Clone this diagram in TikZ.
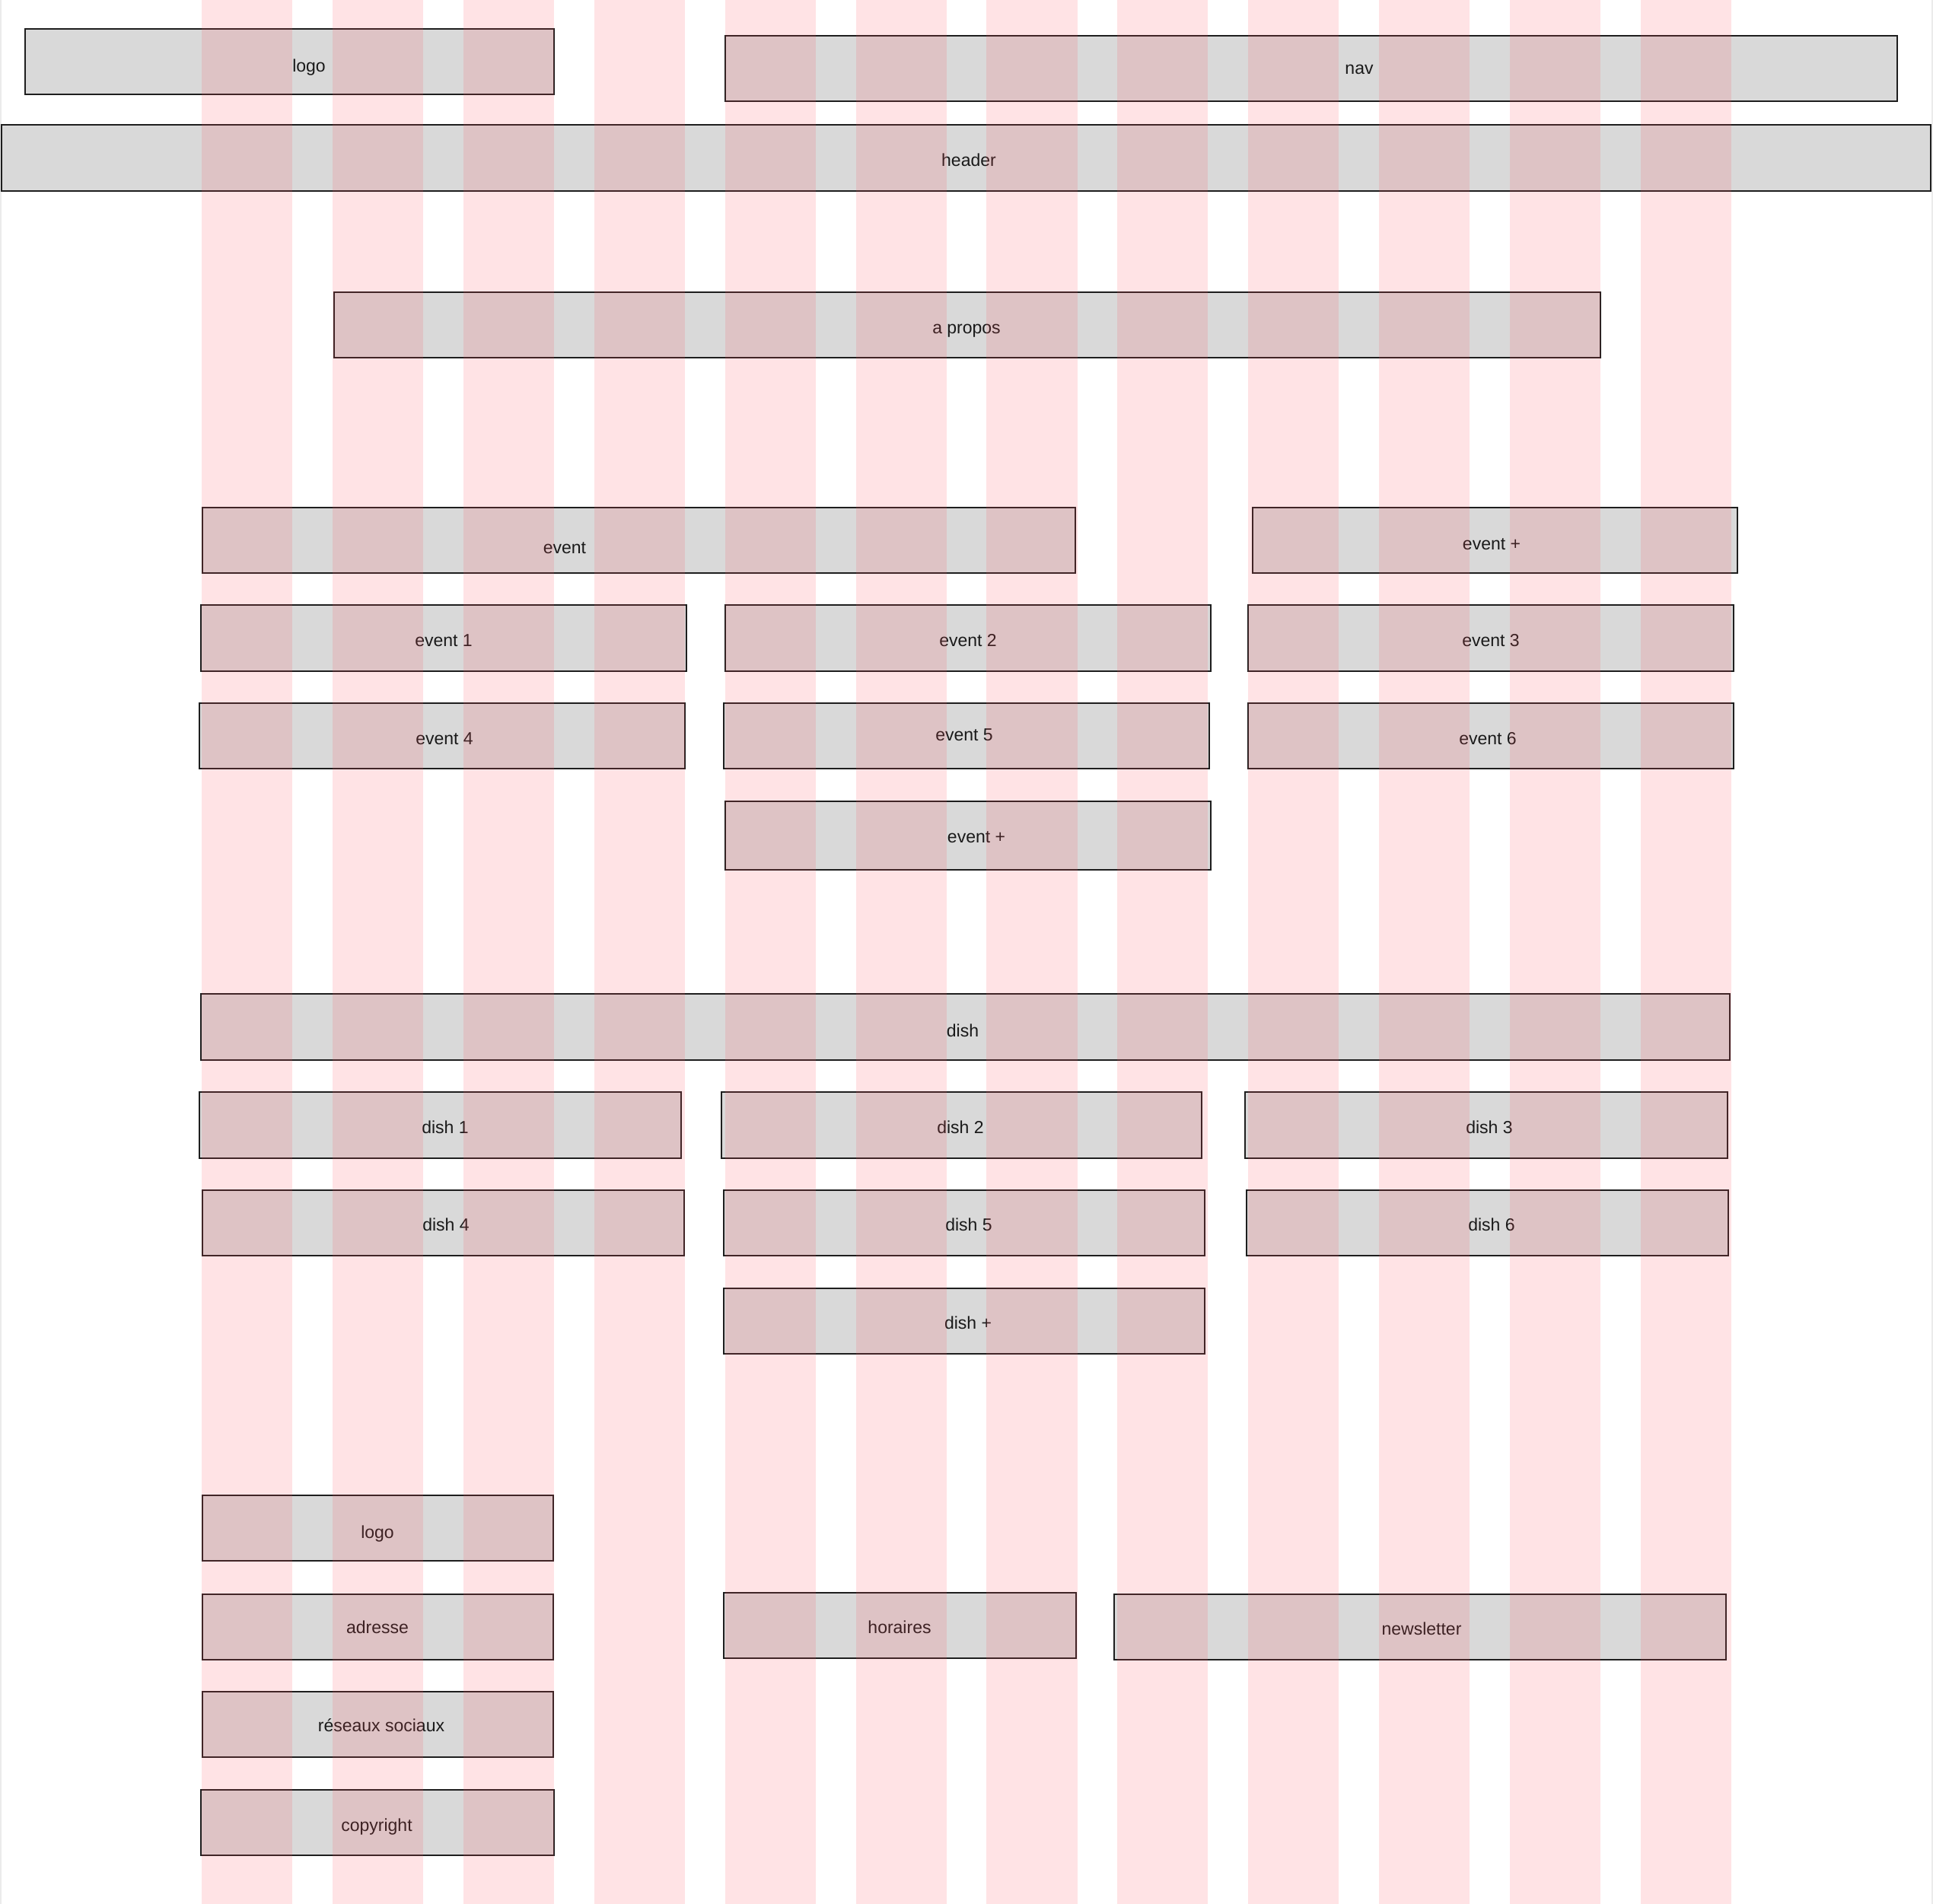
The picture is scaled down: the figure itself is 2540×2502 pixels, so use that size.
\documentclass[tikz,border=0pt]{standalone}
\usepackage{fontspec}
\setmainfont{Liberation Sans}
\usetikzlibrary{fit}
\definecolor{boxgray}{HTML}{D9D9D9}
\definecolor{boxline}{HTML}{1E1E1E}
\definecolor{colpink}{RGB}{255,78,90}
\definecolor{framegray}{HTML}{EBEBEB}
\definecolor{txt}{HTML}{1A1A1A}
\tikzset{
  wbox/.style={draw=boxline, fill=boxgray, line width=0.9pt, inner sep=0pt},
  lbl/.style={anchor=base, inner sep=0pt, text=txt, font=\fontsize{11.5pt}{13pt}\selectfont},
  gridcol/.style={fill=colpink, fill opacity=0.158, draw=none},
  frameline/.style={draw=framegray, line width=1pt}
}
\newcommand{\wfbox}[8]{%
  \node[wbox, fit={(#2,#3) (#4,#5)}] (#1) {};
  \node[lbl] (#1-t) at (#7,#8+9) {#6};
}
\begin{document}
\begin{tikzpicture}[x=0.5pt,y=-0.5pt]
\useasboundingbox (0,0) rectangle (2540,2502);
\fill[white] (0,0) rectangle (2540,2502);
\draw[frameline] (1,0) -- (1,2502);
\draw[frameline] (2539,0) -- (2539,2502);
% header area
\wfbox{logo}{33}{38}{728}{124}{logo}{406}{85}
\wfbox{nav}{953}{47}{2493}{133}{nav}{1786}{88}
\wfbox{header}{2}{164}{2537}{251}{header}{1273}{209}
\wfbox{apropos}{439}{384}{2103}{470}{a propos}{1270}{429}
% events
\wfbox{event}{266}{667}{1413}{753}{event}{742}{718}
\wfbox{eventplusA}{1646}{667}{2283}{753}{event +}{1960}{713}
\wfbox{event1}{264}{795}{902}{882}{event 1}{583}{840}
\wfbox{event2}{953}{795}{1591}{882}{event 2}{1272}{840}
\wfbox{event3}{1640}{795}{2278}{882}{event 3}{1959}{840}
\wfbox{event4}{262}{924}{900}{1010}{event 4}{584}{969}
\wfbox{event5}{951}{924}{1589}{1010}{event 5}{1267}{964}
\wfbox{event6}{1640}{924}{2278}{1010}{event 6}{1955}{969}
\wfbox{eventplusB}{953}{1053}{1591}{1143}{event +}{1283}{1098}
% dishes
\wfbox{dish}{264}{1306}{2273}{1393}{dish}{1265}{1353}
\wfbox{dish1}{262}{1435}{895}{1522}{dish 1}{585}{1480}
\wfbox{dish2}{948}{1435}{1579}{1522}{dish 2}{1262}{1480}
\wfbox{dish3}{1636}{1435}{2270}{1522}{dish 3}{1957}{1480}
\wfbox{dish4}{266}{1564}{899}{1650}{dish 4}{586}{1608}
\wfbox{dish5}{951}{1564}{1583}{1650}{dish 5}{1273}{1608}
\wfbox{dish6}{1638}{1564}{2271}{1650}{dish 6}{1960}{1608}
\wfbox{dishplus}{951}{1693}{1583}{1779}{dish +}{1272}{1737}
% footer
\wfbox{flogo}{266}{1965}{727}{2051}{logo}{496}{2012}
\wfbox{adresse}{266}{2095}{727}{2181}{adresse}{496}{2137}
\wfbox{horaires}{951}{2093}{1414}{2179}{horaires}{1182}{2137}
\wfbox{newsletter}{1464}{2095}{2268}{2181}{newsletter}{1868}{2139}
\wfbox{reseaux}{266}{2223}{727}{2309}{réseaux sociaux}{501}{2266}
\wfbox{copyright}{264}{2352}{728}{2438}{copyright}{495}{2397}
% grid columns overlay
\foreach \i in {0,...,11} {
  \fill[gridcol] ({265.2+\i*171.86},0) rectangle ({265.2+\i*171.86+119.2},2502);
}
\end{tikzpicture}
\end{document}
